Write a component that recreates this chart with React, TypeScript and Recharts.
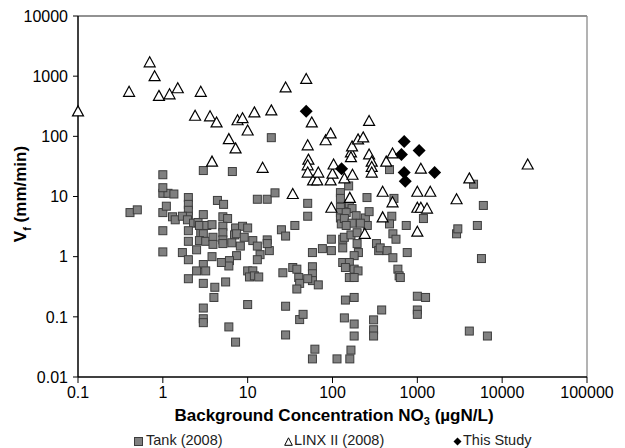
import { ScatterChart, Scatter, XAxis, YAxis, ReferenceLine } from "recharts";

const xTicks = [0.1, 1, 10, 100, 1000, 10000, 100000];
const yTicks = [0.01, 0.1, 1, 10, 100, 1000, 10000];

// Tank (2008): [NO3 background, Vf]
const tank: [number, number][] = [
  [1, 23], [3, 27], [6.6, 26], [19, 95], [470, 28], [155, 15], [124, 11.6], [4600, 16], [6000, 7.1],
  [0.41, 5.4], [0.5, 6.0], [1, 11.3], [1.15, 11.3], [1.35, 11], [1, 14],
  [2, 9.6], [2, 7.4], [2, 5.9], [2, 4.7], [1, 5.4], [1.1, 6.9],
  [1.3, 4.6], [1.4, 4.1], [1.7, 4.7], [1.95, 4.1], [2.3, 3.6], [2.6, 3.7], [3.0, 5.0],
  [1, 2.7], [2, 2.7], [2.8, 2.5], [3, 2.4], [2, 1.8],
  [1, 1.2], [1.7, 1.17], [2, 0.89], [2.5, 1.3],
  [3, 0.74], [2.5, 0.58], [3.2, 0.58], [2, 0.43], [3, 0.36],
  [3, 0.14], [3, 0.093], [3, 0.08],
  [4.4, 8.6], [5.2, 7.4], [13, 9], [17, 9], [21, 11.5],
  [51, 7.7], [51, 4.7], [5.1, 4.6], [5.8, 4.3],
  [2.7, 3.3], [3.3, 3.3], [3.8, 3.4], [2.7, 1.85], [3.2, 1.8], [3.9, 2.1], [3.9, 1.6],
  [5.1, 3.2], [5.1, 2.5], [5.1, 1.9], [5.1, 1.65],
  [7.2, 3.0], [8.7, 3.2], [10, 3.0], [7.0, 2.3], [7.4, 2.4], [9.1, 2.1],
  [6.5, 1.7], [8.2, 1.5], [11.5, 1.85], [13, 1.5],
  [7.4, 1.04], [6.1, 0.86], [6.0, 0.7], [4.9, 0.8], [3.8, 1.0],
  [5.5, 0.38], [4.1, 0.31], [4.0, 0.21],
  [6, 0.068], [7.2, 0.038], [10, 0.16],
  [10, 0.58], [11.5, 0.58], [10.5, 0.46], [12, 0.48], [13.5, 0.46],
  [14, 1.08], [13, 0.89], [17, 1.9], [18, 1.26], [17, 1.65],
  [25, 2.8], [28, 2.2], [36, 3.3],
  [26, 0.54], [34, 0.66], [38, 0.62], [40, 0.45], [41, 0.36], [38, 0.29],
  [28, 0.15], [41, 0.09], [45, 0.11], [28, 0.05],
  [58, 1.17], [58, 0.68], [58, 0.52], [58, 0.4], [68, 0.34], [51, 0.43],
  [62, 0.029], [58, 0.02], [76, 1.36], [97, 1.95], [97, 1.26],
  [124, 9.3], [124, 6.6], [124, 5.4], [124, 4.4], [127, 3.5],
  [255, 9.6], [530, 9.3],
  [158, 7.6], [170, 6.3], [145, 5.4], [138, 4.3], [190, 4.8],
  [244, 4.4], [270, 5.6], [257, 3.3], [213, 3.6], [170, 3.6], [145, 3.3],
  [500, 4.7], [470, 3.5], [740, 3.3], [1180, 4.3],
  [2900, 2.4], [3000, 2.9], [515, 2.4], [560, 1.95],
  [132, 1.4], [132, 1.95], [138, 2.1], [165, 2.3], [195, 2.5],
  [195, 1.65], [202, 1.17], [180, 1.04], [330, 1.65], [350, 1.26], [365, 1.4], [440, 1.26], [515, 0.96], [760, 1.17],
  [132, 0.8], [158, 0.8], [142, 0.66], [180, 0.62], [200, 0.58], [158, 0.45], [180, 0.45],
  [590, 0.62], [610, 0.48], [630, 0.45],
  [142, 0.19], [180, 0.21], [380, 0.13],
  [138, 0.096], [180, 0.076], [305, 0.089], [305, 0.061], [305, 0.048], [180, 0.048],
  [165, 0.028], [113, 0.02], [160, 0.02],
  [1000, 0.22], [1250, 0.21], [1000, 0.13], [1000, 0.11],
  [5100, 3.3], [5700, 0.93], [4100, 0.058], [6700, 0.048],
];

// LINX II (2008)
const linx: [number, number][] = [
  [0.1, 260], [0.4, 550], [0.7, 1700], [0.8, 1000], [0.9, 470], [1.2, 500], [1.5, 630],
  [2.4, 220], [2.8, 550], [3.6, 215], [3.8, 38], [4.3, 170], [6, 90], [7.2, 63],
  [7.6, 185], [8.7, 200], [10, 125], [12, 250], [15, 30], [19, 270], [28, 650], [34, 11],
  [49, 900], [51, 71], [52, 41], [51, 33], [51, 25], [57, 170], [59, 18.5], [66, 18.5],
  [68, 25], [83, 86], [95, 112], [95, 18.5], [97, 6.5], [100, 24], [103, 34], [138, 20],
  [165, 54], [170, 68], [165, 45], [172, 23], [160, 9.5], [200, 89], [230, 96], [240, 2.4],
  [270, 180], [270, 50], [290, 38], [290, 31], [290, 25], [390, 12], [390, 4.5], [430, 38],
  [510, 52], [510, 8], [1000, 12], [1000, 6.5], [1000, 2.6], [1100, 29], [1100, 6.5],
  [1300, 6.3], [1420, 12], [2900, 9], [4100, 20], [20000, 34],
];

// This Study
const study: [number, number][] = [
  [49, 260], [700, 82], [1050, 58], [650, 50], [128, 29], [700, 25], [1600, 25], [720, 18],
];

const toPts = (a: [number, number][]) => a.map(([x, y]) => ({ x, y }));
const font = "'Liberation Sans', Arial, sans-serif";
const fmt = (v: number) => String(v);

const Square = (p: any) => (
  <rect x={p.cx - 4} y={p.cy - 4} width={8} height={8} fill="#808080" stroke="#3c3c3c" strokeWidth={1} />
);
const Triangle = (p: any) => (
  <polygon
    points={`${p.cx},${p.cy - 5.5} ${p.cx + 5.5},${p.cy + 4.5} ${p.cx - 5.5},${p.cy + 4.5}`}
    fill="#fff"
    stroke="#000"
    strokeWidth={1.2}
  />
);
const Diamond = (p: any) => (
  <polygon
    points={`${p.cx},${p.cy - 6.5} ${p.cx + 6.5},${p.cy} ${p.cx},${p.cy + 6.5} ${p.cx - 6.5},${p.cy}`}
    fill="#000"
  />
);

export default function App() {
  const tick = { fontSize: 16, fill: "#000", fontFamily: font };
  return (
    <div style={{ position: "absolute", left: 0, top: 0, width: 625, height: 448, background: "#fff", fontFamily: font }}>
      <ScatterChart width={625} height={448} margin={{ top: 16, right: 38, bottom: 41, left: 8 }}>
        <XAxis
          type="number"
          dataKey="x"
          scale="log"
          domain={[0.1, 100000]}
          ticks={xTicks}
          interval={0}
          tickFormatter={fmt}
          tick={tick}
          tickLine={{ stroke: "#000" }}
          axisLine={{ stroke: "#000", strokeWidth: 1.5 }}
          tickSize={6}
          tickMargin={4}
          height={30}
        />
        <YAxis
          type="number"
          dataKey="y"
          scale="log"
          domain={[0.01, 10000]}
          ticks={yTicks}
          interval={0}
          tickFormatter={fmt}
          tick={tick}
          tickLine={{ stroke: "#000" }}
          axisLine={{ stroke: "#000", strokeWidth: 1.5 }}
          tickSize={5}
          tickMargin={5}
          width={70}
        />
        <ReferenceLine y={10000} stroke="#6e6e6e" strokeWidth={1.3} />
        <ReferenceLine x={100000} stroke="#8a8a8a" strokeWidth={1.3} />
        <Scatter data={toPts(tank)} shape={Square} isAnimationActive={false} />
        <Scatter data={toPts(linx)} shape={Triangle} isAnimationActive={false} />
        <Scatter data={toPts(study)} shape={Diamond} isAnimationActive={false} />
      </ScatterChart>

      <div
        style={{
          position: "absolute",
          left: 0,
          width: 668,
          top: 406,
          textAlign: "center",
          fontWeight: "bold",
          fontSize: 17,
          color: "#000",
          whiteSpace: "nowrap",
        }}
      >
        Background Concentration NO<sub style={{ fontSize: 11 }}>3</sub> (µgN/L)
      </div>

      <div
        style={{
          position: "absolute",
          left: 22,
          top: 194,
          transform: "translate(-50%, -50%) rotate(-90deg)",
          fontWeight: "bold",
          fontSize: 17,
          color: "#000",
          whiteSpace: "nowrap",
        }}
      >
        V<sub style={{ fontSize: 11 }}>f</sub> (mm/min)
      </div>

      <div style={{ position: "absolute", top: 432, left: 0, width: 625, height: 18, fontSize: 14.5, color: "#222" }}>
        <svg style={{ position: "absolute", left: 134, top: 5 }} width={9} height={9}>
          <rect x={0.5} y={0.5} width={8} height={8} fill="#808080" stroke="#3c3c3c" strokeWidth={1} />
        </svg>
        <span style={{ position: "absolute", left: 146, top: 0 }}>Tank (2008)</span>
        <svg style={{ position: "absolute", left: 284, top: 5 }} width={9} height={9}>
          <polygon points="4.5,0.8 8.3,8.3 0.7,8.3" fill="#fff" stroke="#000" strokeWidth={1} />
        </svg>
        <span style={{ position: "absolute", left: 294, top: 0 }}>LINX II (2008)</span>
        <svg style={{ position: "absolute", left: 453, top: 5 }} width={9} height={9}>
          <polygon points="4.5,0.5 8.5,4.5 4.5,8.5 0.5,4.5" fill="#000" />
        </svg>
        <span style={{ position: "absolute", left: 463, top: 0 }}>This Study</span>
      </div>
    </div>
  );
}
